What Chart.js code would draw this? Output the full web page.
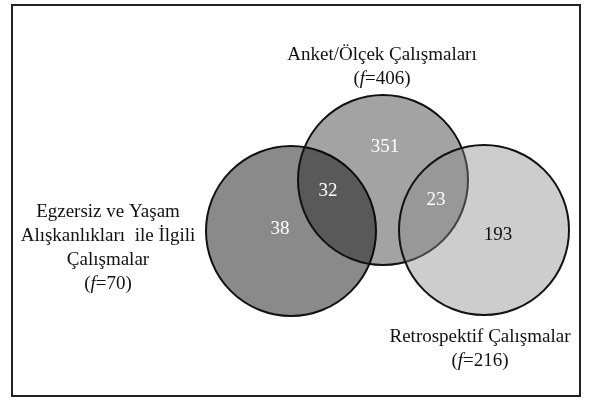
<!DOCTYPE html>
<html>
<head>
<meta charset="utf-8">
<script src="https://cdn.jsdelivr.net/npm/chart.js@4/dist/chart.umd.min.js"></script>
<style>
  html, body { margin: 0; padding: 0; background: #fff; }
  #wrap { position: relative; width: 592px; height: 401px; }
  #frame { position: absolute; left: 11px; top: 4px; width: 570px; height: 393px; border: 2px solid #222; box-sizing: border-box; pointer-events: none; }
  canvas { position: absolute; left: 0; top: 0; }
</style>
</head>
<body>
<div id="wrap">
  <canvas id="venn" width="592" height="401"></canvas>
  <div id="frame"></div>
</div>
<script>
// Data
const setNames = [
  ['Egzersiz ve Yaşam', 'Alışkanlıkları  ile İlgili', 'Çalışmalar'],
  ['Anket/Ölçek Çalışmaları'],
  ['Retrospektif Çalışmalar']
];
const setTotals = [70, 406, 216];
const onlyCounts = [38, 351, 193];
const pairCounts = [32, 23]; // Egzersiz∩Anket, Anket∩Retrospektif

// Layout (in scale units, 1 unit = 1 px of the 592x401 picture)
const circleCenters = [[291, 231], [383, 180], [484, 230]];
const circleSize = 85;
const circleFills = ['rgba(0,0,0,0.46)', 'rgba(0,0,0,0.36)', 'rgba(135,135,135,0.42)'];
const drawOrder = [2, 1, 0]; // right circle painted last
const namePos = [[108, 212], [382, 55], [480, 337]];
const lineGap = 24;
const onlyPos = [[280, 229], [385, 147], [498, 235]];
const onlyColors = ['#fff', '#fff', '#111'];
const pairPos = [[328, 191], [436, 200]];

const FONT = '"Liberation Serif", "Times New Roman", serif';

function sizeToPixels(chart, size) {
  const sx = chart.scales.x;
  if (!sx) return 0;
  return sx.getPixelForValue(size) - sx.getPixelForValue(0);
}

const datasets = circleCenters.map((c, i) => ({
  label: setNames[i].join(' '),
  data: [{ x: c[0], y: c[1] }],
  size: circleSize,
  showLine: false,
  pointStyle: 'circle',
  pointRadius: ctx => sizeToPixels(ctx.chart, ctx.dataset.size),
  pointHoverRadius: ctx => sizeToPixels(ctx.chart, ctx.dataset.size),
  pointBackgroundColor: circleFills[i],
  pointBorderColor: '#111',
  pointBorderWidth: 2,
  pointHoverBorderWidth: 2,
  order: drawOrder[i]
}));

function drawTotal(ctx, x, y, total) {
  const a = '(', f = 'f', b = '=' + total + ')';
  ctx.font = '19px ' + FONT;
  const wa = ctx.measureText(a).width;
  const wb = ctx.measureText(b).width;
  ctx.font = 'italic 19px ' + FONT;
  const wf = ctx.measureText(f).width;
  const left = x - (wa + wf + wb) / 2;
  ctx.textAlign = 'left';
  ctx.font = '19px ' + FONT;
  ctx.fillText(a, left, y);
  ctx.font = 'italic 19px ' + FONT;
  ctx.fillText(f, left + wa, y);
  ctx.font = '19px ' + FONT;
  ctx.fillText(b, left + wa + wf, y);
}

const vennLabels = {
  id: 'vennLabels',
  afterDatasetsDraw(chart) {
    const { ctx, scales } = chart;
    const px = v => scales.x.getPixelForValue(v);
    const py = v => scales.y.getPixelForValue(v);
    ctx.save();
    ctx.textBaseline = 'middle';

    // set names and totals
    setNames.forEach((lines, i) => {
      const x = px(namePos[i][0]);
      ctx.fillStyle = '#111';
      lines.forEach((line, j) => {
        ctx.textAlign = 'center';
        ctx.font = '19px ' + FONT;
        ctx.fillText(line, x, py(namePos[i][1] + j * lineGap));
      });
      drawTotal(ctx, x, py(namePos[i][1] + lines.length * lineGap), setTotals[i]);
    });

    // region counts
    ctx.textAlign = 'center';
    ctx.font = '19px ' + FONT;
    onlyCounts.forEach((v, i) => {
      ctx.fillStyle = onlyColors[i];
      ctx.fillText(String(v), px(onlyPos[i][0]), py(onlyPos[i][1]));
    });
    ctx.fillStyle = '#fff';
    pairCounts.forEach((v, i) => {
      ctx.fillText(String(v), px(pairPos[i][0]), py(pairPos[i][1]));
    });
    ctx.restore();
  }
};

new Chart(document.getElementById('venn'), {
  type: 'scatter',
  data: { datasets },
  options: {
    responsive: false,
    animation: false,
    events: [],
    layout: { padding: 0 },
    plugins: { legend: { display: false }, tooltip: { enabled: false } },
    scales: {
      x: { type: 'linear', min: 0, max: 592, display: false },
      y: { type: 'linear', min: 0, max: 401, reverse: true, display: false }
    }
  },
  plugins: [vennLabels]
});
</script>
</body>
</html>
